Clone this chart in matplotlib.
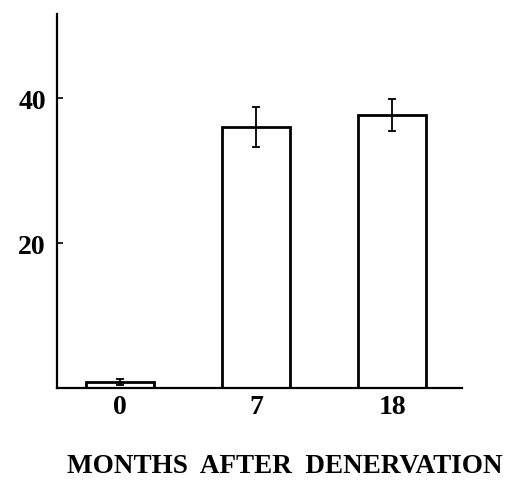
import matplotlib.pyplot as plt

months = ["0", "7", "18"]
values = [0.8, 36.0, 37.6]
errors = [0.4, 2.8, 2.2]
yticks = [20, 40]

plt.rcParams['font.family'] = ['Liberation Serif', 'DejaVu Serif']
plt.rcParams['font.weight'] = 'bold'

fig = plt.figure(figsize=(5.11, 4.81), dpi=100)
ax = fig.add_axes([0.1115, 0.191, 0.7925, 0.778])

pos = list(range(len(months)))
ax.bar(pos, values, width=0.5, color="white", edgecolor="black", linewidth=2)
ax.errorbar(pos, values, yerr=errors, fmt="none", ecolor="black",
            elinewidth=1.3, capsize=3, capthick=1.3)

ax.set_xlim(-0.46, 2.51)
ax.set_ylim(0, 51.6)
ax.set_yticks(yticks)
ax.set_yticklabels([str(t) for t in yticks], fontsize=20, fontweight="bold")
ax.set_xticks(pos)
ax.set_xticklabels(months, fontsize=20, fontweight="bold")
ax.tick_params(axis="y", direction="in", length=4, width=1.2, pad=8)
ax.tick_params(axis="x", length=0, pad=4)

ax.spines["top"].set_visible(False)
ax.spines["right"].set_visible(False)
ax.spines["left"].set_linewidth(1.6)
ax.spines["bottom"].set_linewidth(1.6)

fig.text(285 / 511, 8 / 481, "MONTHS  AFTER  DENERVATION", fontsize=19.5,
         fontweight="bold", ha="center", va="baseline")

fig.savefig("out.png", dpi=100)
